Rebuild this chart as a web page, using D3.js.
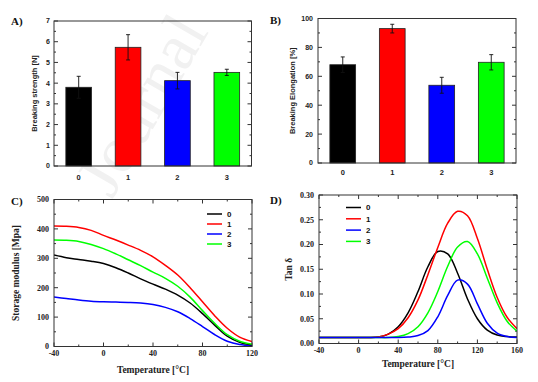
<!DOCTYPE html>
<html><head><meta charset="utf-8">
<script src="https://cdn.jsdelivr.net/npm/d3@7"></script>
<style>body{margin:0;background:#fff}svg{display:block}</style>
</head><body>
<svg id="c" width="538" height="382"></svg>
<script>
// ---------- data ----------
const categories = ["0", "1", "2", "3"];
const barColors = ["#000000", "#ff0000", "#0000ff", "#00ff00"];
const strength = [3.80, 5.73, 4.12, 4.52];
const strengthErr = [0.53, 0.61, 0.40, 0.15];
const elongation = [68.0, 93.0, 53.8, 69.7];
const elongationErr = [5.4, 3.0, 5.5, 5.3];

const tempC = [-40,-30,-20,-10,0,10,20,30,40,50,60,70,80,90,100,110,120];
const modulus0 = [311,302,296,290,282,268,250,230,212,195,175,148,112,72,35,14,5];
const modulus1 = [410,409,405,395,378,362,345,327,305,276,243,200,152,104,62,32,17];
const modulus2 = [168,163,158,154,152,151,150,148,143,133,118,95,68,40,18,7,3];
const modulus3 = [362,361,357,347,333,315,295,275,253,232,205,168,122,78,40,18,8];

const tempD = [-40,-30,-20,-10,0,10,20,30,40,50,60,70,80,90,100,110,120,130,140,150,160];
const tan0 = [0.012,0.012,0.012,0.012,0.012,0.012,0.013,0.019,0.034,0.062,0.105,0.155,0.186,0.181,0.142,0.090,0.050,0.027,0.017,0.014,0.013];
const tan1 = [0.012,0.012,0.012,0.012,0.012,0.012,0.013,0.019,0.030,0.052,0.088,0.139,0.194,0.243,0.267,0.258,0.212,0.150,0.093,0.053,0.030];
const tan2 = [0.012,0.012,0.012,0.012,0.012,0.012,0.012,0.012,0.012,0.013,0.016,0.026,0.054,0.097,0.128,0.120,0.080,0.041,0.021,0.014,0.012];
const tan3 = [0.012,0.012,0.012,0.012,0.012,0.012,0.012,0.012,0.014,0.020,0.034,0.062,0.105,0.156,0.195,0.206,0.181,0.132,0.082,0.045,0.025];

const seriesNames = ["0", "1", "2", "3"];
const lineColors = ["#000000", "#ff0000", "#0000ff", "#00ff00"];

const barTicksA = [0,1,2,3,4,5,6,7];
const barTicksB = [0,20,40,60,80,100];
const ticksCx = [-40,0,40,80,120];
const ticksCy = [0,100,200,300,400,500];
const ticksDx = [-40,0,40,80,120,160];
const ticksDy = [0,0.05,0.10,0.15,0.20,0.25,0.30];

// ---------- drawing ----------
const svg = d3.select("#c");
const SANS = "'Liberation Sans', Arial, sans-serif";
const SERIF = "'Liberation Serif', 'Times New Roman', serif";

// faint watermark
svg.append("text").attr("transform","translate(112,200) rotate(-60)")
  .attr("font-family",SERIF).attr("font-size",66).attr("fill","#f1f1f1")
  .text("Journal");

function frame(g, x0, x1, y0, y1) {
  g.append("rect").attr("x",x0).attr("y",y0).attr("width",x1-x0).attr("height",y1-y0)
    .attr("fill","none").attr("stroke","#333").attr("stroke-width",1);
}

function yTicks(g, y, ticks, minor, x0, x1, fmt, font, fs, labelX) {
  ticks.forEach(t => {
    g.append("line").attr("x1",x0).attr("x2",x0+4).attr("y1",y(t)).attr("y2",y(t)).attr("stroke","#333");
    g.append("line").attr("x1",x1).attr("x2",x1-4).attr("y1",y(t)).attr("y2",y(t)).attr("stroke","#333");
    g.append("text").attr("x",labelX).attr("y",y(t)).attr("dy","0.35em").attr("text-anchor","end")
      .attr("font-family",font).attr("font-size",fs).attr("font-weight","bold").attr("fill","#222").text(fmt(t));
  });
  minor.forEach(t => {
    g.append("line").attr("x1",x0).attr("x2",x0+2).attr("y1",y(t)).attr("y2",y(t)).attr("stroke","#333");
    g.append("line").attr("x1",x1).attr("x2",x1-2).attr("y1",y(t)).attr("y2",y(t)).attr("stroke","#333");
  });
}

function xTicks(g, x, ticks, minor, y0, y1, font, fs, labelY) {
  ticks.forEach(t => {
    g.append("line").attr("x1",x(t)).attr("x2",x(t)).attr("y1",y1).attr("y2",y1-4).attr("stroke","#333");
    g.append("line").attr("x1",x(t)).attr("x2",x(t)).attr("y1",y0).attr("y2",y0+4).attr("stroke","#333");
    g.append("text").attr("x",x(t)).attr("y",labelY).attr("text-anchor","middle")
      .attr("font-family",font).attr("font-size",fs).attr("font-weight","bold").attr("fill","#222").text(t);
  });
  minor.forEach(t => {
    g.append("line").attr("x1",x(t)).attr("x2",x(t)).attr("y1",y1).attr("y2",y1-2).attr("stroke","#333");
    g.append("line").attr("x1",x(t)).attr("x2",x(t)).attr("y1",y0).attr("y2",y0+2).attr("stroke","#333");
  });
}

function barPanel(opt) {
  const g = svg.append("g");
  const x = d3.scaleBand().domain(categories).range([opt.x0,opt.x1]).paddingInner(0.48).paddingOuter(0.24);
  const y = d3.scaleLinear().domain([0,opt.max]).range([opt.y1,opt.y0]);
  const minor = d3.range(0, opt.max, opt.step/2).filter(v => !opt.ticks.includes(v));
  yTicks(g, y, opt.ticks, minor, opt.x0, opt.x1, d3.format("d"), SANS, 7, opt.labelX);
  categories.forEach((c,i) => {
    g.append("rect").attr("x",x(c)).attr("y",y(opt.values[i])).attr("width",x.bandwidth())
      .attr("height",y(0)-y(opt.values[i])).attr("fill",barColors[i]).attr("stroke","#222").attr("stroke-width",0.8);
    const cx = x(c)+x.bandwidth()/2;
    const hi = y(opt.values[i]+opt.errs[i]), lo = y(opt.values[i]-opt.errs[i]);
    g.append("line").attr("x1",cx).attr("x2",cx).attr("y1",hi).attr("y2",lo).attr("stroke","#111").attr("stroke-width",0.9);
    [hi,lo].forEach(yy => g.append("line").attr("x1",cx-2).attr("x2",cx+2).attr("y1",yy).attr("y2",yy).attr("stroke","#111").attr("stroke-width",0.9));
    g.append("text").attr("x",cx).attr("y",opt.catY).attr("text-anchor","middle")
      .attr("font-family",SANS).attr("font-size",7.5).attr("font-weight","bold").attr("fill","#222").text(c);
  });
  frame(g, opt.x0, opt.x1, opt.y0, opt.y1);
  g.append("text").attr("transform",`translate(${opt.titleX},${(opt.y0+opt.y1)/2}) rotate(-90)`)
    .attr("text-anchor","middle").attr("font-family",SANS).attr("font-size",7.5).attr("font-weight","bold")
    .attr("fill","#222").text(opt.title);
  g.append("text").attr("x",opt.labX).attr("y",opt.labY).attr("font-family",SERIF).attr("font-size",11)
    .attr("font-weight","bold").attr("fill","#111").text(opt.label);
}

barPanel({x0:54,x1:251.5,y0:21,y1:166,max:7,step:1,ticks:barTicksA,values:strength,errs:strengthErr,
  labelX:50,catY:180,titleX:37,title:"Breaking strength [N]",label:"A)",labX:11,labY:25});
barPanel({x0:318,x1:516,y0:18.5,y1:163,max:100,step:20,ticks:barTicksB,values:elongation,errs:elongationErr,
  labelX:313,catY:175,titleX:295,title:"Breaking Elongation [%]",label:"B)",labX:270,labY:24});

function linePanel(opt) {
  const g = svg.append("g");
  const x = d3.scaleLinear().domain(opt.xd).range([opt.x0,opt.x1]);
  const y = d3.scaleLinear().domain(opt.yd).range([opt.y1,opt.y0]);
  yTicks(g, y, opt.yt, opt.ym, opt.x0, opt.x1, opt.yfmt, SERIF, 8, opt.labelX);
  xTicks(g, x, opt.xt, opt.xm, opt.y0, opt.y1, SERIF, 8, opt.xLabY);
  const line = d3.line().x(d=>x(d[0])).y(d=>y(d[1])).curve(d3.curveCatmullRom.alpha(0.5));
  const clipId = "clip"+opt.label[0];
  g.append("clipPath").attr("id",clipId).append("rect").attr("x",opt.x0).attr("y",opt.y0)
    .attr("width",opt.x1-opt.x0).attr("height",opt.y1-opt.y0);
  const order = opt.order;
  order.forEach(i => {
    g.append("path").attr("d",line(opt.xs.map((t,k)=>[t,opt.series[i][k]]))).attr("fill","none")
      .attr("stroke",lineColors[i]).attr("stroke-width",1.5).attr("clip-path",`url(#${clipId})`);
  });
  frame(g, opt.x0, opt.x1, opt.y0, opt.y1);
  seriesNames.forEach((n,i) => {
    const yy = opt.legY + i*opt.legStep;
    g.append("line").attr("x1",opt.legX).attr("x2",opt.legX+15).attr("y1",yy).attr("y2",yy)
      .attr("stroke",lineColors[i]).attr("stroke-width",1.5);
    g.append("text").attr("x",opt.legX+20).attr("y",yy).attr("dy","0.35em").attr("font-family",SANS)
      .attr("font-size",8).attr("font-weight","bold").attr("fill","#111").text(n);
  });
  g.append("text").attr("x",(opt.x0+opt.x1)/2).attr("y",opt.xTitleY).attr("text-anchor","middle")
    .attr("font-family",SERIF).attr("font-size",9.5).attr("font-weight","bold").attr("fill","#222")
    .text("Temperature [°C]");
  g.append("text").attr("transform",`translate(${opt.titleX},${(opt.y0+opt.y1)/2}) rotate(-90)`)
    .attr("text-anchor","middle").attr("font-family",SERIF).attr("font-size",9.5).attr("font-weight","bold")
    .attr("fill","#222").text(opt.title);
  g.append("text").attr("x",opt.labX).attr("y",opt.labY).attr("font-family",SERIF).attr("font-size",11)
    .attr("font-weight","bold").attr("fill","#111").text(opt.label);
}

linePanel({x0:54,x1:252,y0:199.5,y1:346.5,xd:[-40,120],yd:[0,500],
  xt:ticksCx, xm:[-20,20,60,100], yt:ticksCy, ym:[50,150,250,350,450], yfmt:d3.format("d"),
  labelX:49, xLabY:356, xTitleY:373, titleX:19, title:"Storage modulus [Mpa]",
  xs:tempC, series:[modulus0,modulus1,modulus2,modulus3], order:[2,0,3,1],
  legX:207, legY:214, legStep:10, label:"C)", labX:11, labY:205});

linePanel({x0:319,x1:517,y0:195,y1:343.5,xd:[-40,160],yd:[0,0.30],
  xt:ticksDx, xm:[-20,20,60,100,140], yt:ticksDy, ym:[0.025,0.075,0.125,0.175,0.225,0.275], yfmt:d3.format(".2f"),
  labelX:314, xLabY:353, xTitleY:367, titleX:292, title:"Tan δ",
  xs:tempD, series:[tan0,tan1,tan2,tan3], order:[0,1,3,2],
  legX:346, legY:207.5, legStep:11.3, label:"D)", labX:270, labY:204});
</script>
</body></html>
